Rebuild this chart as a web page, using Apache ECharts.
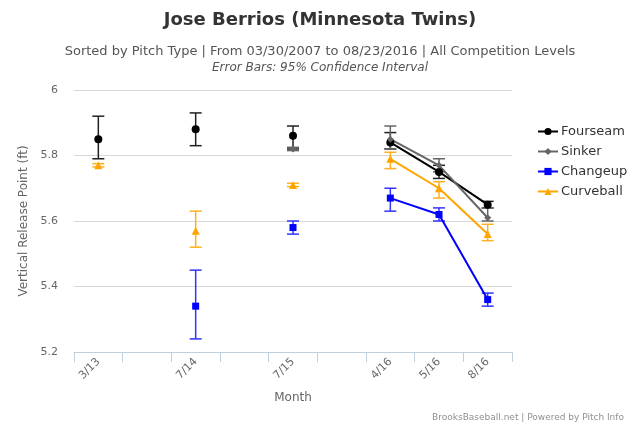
<!DOCTYPE html>
<html>
<head>
<meta charset="utf-8">
<script src="https://cdn.jsdelivr.net/npm/echarts@6/dist/echarts.min.js"></script>
<style>html,body{margin:0;padding:0;background:#fff}#c{width:640px;height:427px}</style>
</head>
<body>
<div id="c"></div>
<script>
var categories = ['3/13', '', '7/14', '', '7/15', '', '4/16', '5/16', '8/16'];
var yTicks = [5.2, 5.4, 5.6, 5.8, 6];

var fourseam     = [5.85, null, 5.88, null, 5.86, null, 5.84, 5.75, 5.65];
var fourseamLow  = [5.79, null, 5.83, null, 5.82, null, 5.82, 5.73, 5.64];
var fourseamHigh = [5.92, null, 5.93, null, 5.89, null, 5.87, 5.77, 5.66];

var sinker     = [null, null, null, null, 5.82, null, 5.85, 5.77, 5.61];
var sinkerLow  = [null, null, null, null, 5.815, null, 5.82, 5.75, 5.60];
var sinkerHigh = [null, null, null, null, 5.825, null, 5.89, 5.79, 5.64];

var changeup     = [null, null, 5.34, null, 5.58, null, 5.67, 5.62, 5.36];
var changeupLow  = [null, null, 5.24, null, 5.56, null, 5.63, 5.60, 5.34];
var changeupHigh = [null, null, 5.45, null, 5.60, null, 5.70, 5.64, 5.38];

var curveball     = [5.77, null, 5.57, null, 5.71, null, 5.79, 5.70, 5.56];
var curveballLow  = [5.765, null, 5.52, null, 5.705, null, 5.76, 5.67, 5.54];
var curveballHigh = [5.775, null, 5.63, null, 5.715, null, 5.81, 5.72, 5.59];

var FONT = 'DejaVu Sans';

function errData(lo, hi) {
  var out = [];
  for (var i = 0; i < lo.length; i++) {
    if (lo[i] != null && hi[i] != null) out.push([i, lo[i], hi[i]]);
  }
  return out;
}
function errSeries(name, lo, hi, color) {
  return {
    type: 'custom', name: name, z: 1,
    data: errData(lo, hi),
    encode: { x: 0, y: [1, 2] },
    renderItem: function (params, api) {
      var x = api.value(0);
      var lowP = api.coord([x, api.value(1)]);
      var highP = api.coord([x, api.value(2)]);
      var hw = 6;
      var st = { stroke: color, lineWidth: 1.5, fill: null };
      return {
        type: 'group',
        children: [
          { type: 'line', shape: { x1: lowP[0], y1: lowP[1], x2: highP[0], y2: highP[1] }, style: st },
          { type: 'line', shape: { x1: lowP[0] - hw, y1: lowP[1], x2: lowP[0] + hw, y2: lowP[1] }, style: st },
          { type: 'line', shape: { x1: highP[0] - hw, y1: highP[1], x2: highP[0] + hw, y2: highP[1] }, style: st }
        ]
      };
    }
  };
}
function lineSeries(name, data, color, symbol, size) {
  return {
    type: 'line', name: name, data: data, z: 3,
    color: color, symbol: symbol, symbolSize: size, showSymbol: true,
    lineStyle: { width: 2, color: color },
    itemStyle: { color: color },
    connectNulls: false
  };
}

var chart = echarts.init(document.getElementById('c'), null, { renderer: 'canvas' });
chart.setOption({
  animation: false,
  backgroundColor: '#ffffff',
  textStyle: { fontFamily: FONT },
  title: [
    { text: 'Jose Berrios (Minnesota Twins)', left: 'center', top: 6,
      textStyle: { fontFamily: FONT, fontSize: 18, fontWeight: 'bold', color: '#333333' } },
    { text: 'Sorted by Pitch Type | From 03/30/2007 to 08/23/2016 | All Competition Levels', left: 'center', top: 40,
      textStyle: { fontFamily: FONT, fontSize: 13, fontWeight: 'normal', color: '#555555' } },
    { text: 'Error Bars: 95% Confidence Interval', left: 'center', top: 57,
      textStyle: { fontFamily: FONT, fontSize: 12, fontWeight: 'normal', fontStyle: 'italic', color: '#555555' } },
    { text: 'BrooksBaseball.net | Powered by Pitch Info', right: 11, top: 408,
      textStyle: { fontFamily: FONT, fontSize: 9, fontWeight: 'normal', color: '#909090' } }
  ],
  legend: {
    orient: 'vertical', left: 532, top: 119, itemGap: 5, itemWidth: 20, itemHeight: 9,
    data: ['Fourseam', 'Sinker', 'Changeup', 'Curveball'],
    textStyle: { fontFamily: FONT, fontSize: 13, color: '#333333', lineHeight: 15, padding: [0, 0, 0, -2] }
  },
  grid: { left: 74, right: 128, top: 90, bottom: 75 },
  xAxis: {
    type: 'category', data: categories, boundaryGap: true,
    name: 'Month', nameLocation: 'middle', nameGap: 40,
    nameTextStyle: { fontFamily: FONT, fontSize: 12, color: '#666666' },
    axisLine: { lineStyle: { color: '#C0D0E0', width: 1 } },
    axisTick: { show: true, length: 10, interval: 0, lineStyle: { color: '#C0D0E0' } },
    axisLabel: { rotate: 45, interval: 0, fontFamily: FONT, fontSize: 11, color: '#666666', margin: 8 },
    splitLine: { show: false }
  },
  yAxis: {
    type: 'value', min: yTicks[0], max: yTicks[yTicks.length - 1], interval: 0.2,
    name: 'Vertical Release Point (ft)', nameLocation: 'middle', nameGap: 44,
    nameTextStyle: { fontFamily: FONT, fontSize: 12, color: '#666666' },
    axisLine: { show: false }, axisTick: { show: false },
    axisLabel: { fontFamily: FONT, fontSize: 11, color: '#666666', margin: 16,
      formatter: function (v) { return String(+v.toFixed(1)); } },
    splitLine: { lineStyle: { color: '#D8D8D8', width: 1 } }
  },
  series: [
    errSeries('Fourseam err', fourseamLow, fourseamHigh, '#222222'),
    errSeries('Sinker err', sinkerLow, sinkerHigh, '#666666'),
    errSeries('Changeup err', changeupLow, changeupHigh, '#3333ff'),
    errSeries('Curveball err', curveballLow, curveballHigh, '#ffb020'),
    lineSeries('Fourseam', fourseam, '#000000', 'circle', 8),
    lineSeries('Sinker', sinker, '#666666', 'diamond', 7),
    lineSeries('Changeup', changeup, '#0000ff', 'rect', 7),
    lineSeries('Curveball', curveball, '#ffa500', 'triangle', 8)
  ]
});
</script>
</body>
</html>
